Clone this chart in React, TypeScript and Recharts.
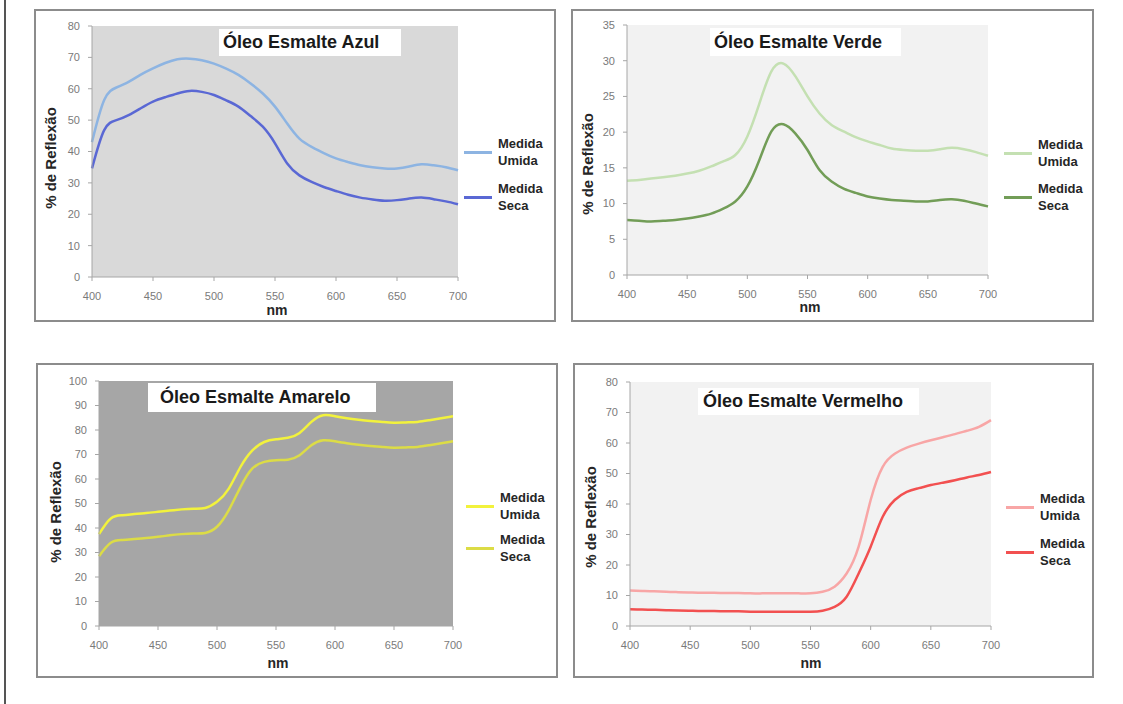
import React from "react";
import { LineChart, Line, XAxis, YAxis, CartesianGrid, Legend, Label } from "recharts";

// comprimentos de onda (nm), leitura a cada 10 nm
const WAVELENGTHS = [400, 410, 420, 430, 440, 450, 460, 470, 480, 490, 500, 510, 520, 530, 540, 550, 560, 570, 580, 590, 600, 610, 620, 630, 640, 650, 660, 670, 680, 690, 700];
const X_TICKS = [400, 450, 500, 550, 600, 650, 700];

const AZUL_UMIDA = [43, 56.4, 60.4, 62.2, 64.5, 66.5, 68.2, 69.4, 69.6, 69.1, 68, 66.4, 64.4, 61.7, 58.5, 54.3, 48.9, 44.1, 41.5, 39.5, 37.8, 36.6, 35.6, 35, 34.6, 34.6, 35.2, 35.9, 35.6, 35, 34];
const AZUL_SECA = [34.6, 46.8, 50, 51.6, 53.8, 55.9, 57.3, 58.5, 59.3, 59, 58, 56.3, 54.3, 51.3, 47.9, 42.6, 36.2, 32.4, 30.3, 28.7, 27.4, 26.2, 25.3, 24.7, 24.3, 24.5, 25, 25.3, 24.8, 24.1, 23.2];

const VERDE_UMIDA = [13.2, 13.3, 13.5, 13.7, 13.9, 14.2, 14.6, 15.2, 15.9, 16.8, 19.4, 24, 28.5, 29.6, 27.8, 25, 22.6, 21, 20.1, 19.3, 18.7, 18.2, 17.7, 17.5, 17.4, 17.4, 17.6, 17.8, 17.6, 17.2, 16.7];
const VERDE_SECA = [7.7, 7.6, 7.5, 7.6, 7.7, 7.9, 8.2, 8.6, 9.3, 10.3, 12.4, 16.1, 20.1, 21.1, 19.8, 17.5, 14.7, 13.1, 12.1, 11.5, 11, 10.7, 10.5, 10.4, 10.3, 10.3, 10.5, 10.6, 10.4, 10, 9.6];

const AMARELO_UMIDA = [37.5, 43.9, 45.2, 45.7, 46.1, 46.6, 47.1, 47.6, 47.9, 48.2, 50.7, 56.1, 65, 71.7, 75.1, 76.2, 76.8, 78.8, 83.3, 86, 85.6, 84.8, 84.2, 83.7, 83.3, 83, 83.1, 83.3, 84, 84.8, 85.6];
const AMARELO_SECA = [28.5, 34, 35.1, 35.5, 35.9, 36.4, 37, 37.5, 37.8, 38, 40.5, 47.3, 56.8, 64.3, 67, 67.7, 67.9, 69.7, 73.8, 75.8, 75.4, 74.6, 74, 73.5, 73.1, 72.8, 72.9, 73.1, 73.8, 74.6, 75.4];

const VERMELHO_UMIDA = [11.6, 11.5, 11.4, 11.2, 11.1, 11, 10.9, 10.9, 10.8, 10.8, 10.7, 10.7, 10.7, 10.7, 10.7, 10.7, 11.2, 12.9, 17.2, 26, 41.3, 52.2, 56.5, 58.5, 59.8, 60.9, 61.9, 62.9, 64, 65.3, 67.5];
const VERMELHO_SECA = [5.5, 5.4, 5.3, 5.2, 5.1, 5, 4.9, 4.9, 4.8, 4.8, 4.7, 4.7, 4.7, 4.7, 4.7, 4.7, 5, 6.3, 9.6, 17.2, 26, 35.8, 41.3, 44, 45.2, 46.2, 47, 47.8, 48.7, 49.5, 50.5];

const Y_TICKS_AZUL = [0, 10, 20, 30, 40, 50, 60, 70, 80];
const Y_TICKS_VERDE = [0, 5, 10, 15, 20, 25, 30, 35];
const Y_TICKS_AMARELO = [0, 10, 20, 30, 40, 50, 60, 70, 80, 90, 100];
const Y_TICKS_VERMELHO = [0, 10, 20, 30, 40, 50, 60, 70, 80];

const LEGEND_LABELS = [["Medida", "Umida"], ["Medida", "Seca"]];
const Y_LABEL = "% de Reflexão";
const X_LABEL = "nm";

const FONT = "'Liberation Sans', Arial, sans-serif";

const panels = [
  {
    title: "Óleo Esmalte Azul",
    umida: AZUL_UMIDA,
    seca: AZUL_SECA,
    yTicks: Y_TICKS_AZUL,
    colors: ["#8db4e2", "#5a68d4"],
    plotBg: "#d9d9d9",
    box: { left: 34, top: 9, width: 522, height: 313 },
    margin: { top: 17, right: 98, bottom: 15, left: 18 },
    yLabel: { x: 16, y: 149 },
    xLabel: { x: 243, y: 301 },
    legend: { left: 430, top: 126, gap: 11 },
    titleBox: { left: 185, top: 20, width: 182, height: 27, pad: 4 },
  },
  {
    title: "Óleo Esmalte Verde",
    umida: VERDE_UMIDA,
    seca: VERDE_SECA,
    yTicks: Y_TICKS_VERDE,
    colors: ["#c4e0b2", "#729d57"],
    plotBg: "#f2f2f2",
    box: { left: 571, top: 9, width: 523, height: 313 },
    margin: { top: 16, right: 106, bottom: 17, left: 16 },
    yLabel: { x: 16, y: 155 },
    xLabel: { x: 239, y: 298 },
    legend: { left: 433, top: 127, gap: 10 },
    titleBox: { left: 139, top: 19, width: 191, height: 28, pad: 4 },
  },
  {
    title: "Óleo Esmalte Amarelo",
    umida: AMARELO_UMIDA,
    seca: AMARELO_SECA,
    yTicks: Y_TICKS_AMARELO,
    colors: ["#f2f23c", "#dcdc46"],
    plotBg: "#a6a6a6",
    box: { left: 36, top: 363, width: 522, height: 315 },
    margin: { top: 18, right: 105, bottom: 22, left: 23 },
    yLabel: { x: 19, y: 149 },
    xLabel: { x: 242, y: 300 },
    legend: { left: 430, top: 126, gap: 8 },
    titleBox: { left: 112, top: 20, width: 228, height: 29, pad: 12 },
  },
  {
    title: "Óleo Esmalte Vermelho",
    umida: VERMELHO_UMIDA,
    seca: VERMELHO_SECA,
    yTicks: Y_TICKS_VERMELHO,
    colors: ["#f8a6a6", "#f25050"],
    plotBg: "#f2f2f2",
    box: { left: 573, top: 363, width: 521, height: 315 },
    margin: { top: 19, right: 103, bottom: 22, left: 17 },
    yLabel: { x: 17, y: 154 },
    xLabel: { x: 238, y: 300 },
    legend: { left: 433, top: 127, gap: 11 },
    titleBox: { left: 125, top: 25, width: 221, height: 27, pad: 5 },
  },
];

function Panel({ cfg }: { cfg: any }) {
  const data = WAVELENGTHS.map((nm, i) => ({ nm, umida: cfg.umida[i], seca: cfg.seca[i] }));
  const yMax = cfg.yTicks[cfg.yTicks.length - 1];
  const { box } = cfg;

  const renderLegend = () => (
    <div style={{ display: "flex", flexDirection: "column", gap: cfg.legend.gap, fontFamily: FONT }}>
      {LEGEND_LABELS.map((lines, i) => (
        <div key={i} style={{ display: "flex", alignItems: "center", height: 34 }}>
          <div style={{ width: 28, height: 3, background: cfg.colors[i], marginRight: 6 }} />
          <div style={{ fontSize: 13, fontWeight: 700, lineHeight: "17px", color: "#262626" }}>
            {lines.map((l) => (
              <div key={l}>{l}</div>
            ))}
          </div>
        </div>
      ))}
    </div>
  );

  return (
    <div style={{ position: "absolute", left: box.left, top: box.top, width: box.width, height: box.height }}>
      <LineChart width={box.width} height={box.height} data={data} margin={cfg.margin}>
        <CartesianGrid horizontal={false} vertical={false} fill={cfg.plotBg} stroke="none" />
        <XAxis
          dataKey="nm"
          type="number"
          domain={[400, 700]}
          ticks={X_TICKS}
          height={30}
          tickSize={4}
          tickMargin={11}
          stroke="#a6a6a6"
          tick={{ fill: "#7a7a7a", fontSize: 11, fontFamily: FONT }}
        >
          <Label
            content={() => (
              <text x={cfg.xLabel.x} y={cfg.xLabel.y} textAnchor="middle" dominantBaseline="central" fontFamily={FONT} fontSize={14} fontWeight={700} fill="#262626">
                {X_LABEL}
              </text>
            )}
          />
        </XAxis>
        <YAxis
          type="number"
          domain={[0, yMax]}
          ticks={cfg.yTicks}
          width={40}
          tickSize={4}
          tickMargin={8}
          stroke="#a6a6a6"
          tick={{ fill: "#7a7a7a", fontSize: 11, fontFamily: FONT }}
        >
          <Label
            content={() => (
              <text
                x={cfg.yLabel.x}
                y={cfg.yLabel.y}
                transform={`rotate(-90, ${cfg.yLabel.x}, ${cfg.yLabel.y})`}
                textAnchor="middle"
                dominantBaseline="central"
                fontFamily={FONT}
                fontSize={15}
                fontWeight={700}
                fill="#262626"
              >
                {Y_LABEL}
              </text>
            )}
          />
        </YAxis>
        <Legend
          layout="horizontal"
          align="center"
          verticalAlign="middle"
          content={renderLegend}
          wrapperStyle={{ left: cfg.legend.left, top: cfg.legend.top, right: "auto", bottom: "auto", width: "auto" }}
        />
        <Line type="natural" dataKey="umida" name="Medida Umida" stroke={cfg.colors[0]} strokeWidth={2.5} dot={false} isAnimationActive={false} />
        <Line type="natural" dataKey="seca" name="Medida Seca" stroke={cfg.colors[1]} strokeWidth={2.5} dot={false} isAnimationActive={false} />
      </LineChart>
      <div
        style={{
          position: "absolute",
          left: cfg.titleBox.left,
          top: cfg.titleBox.top,
          width: cfg.titleBox.width,
          height: cfg.titleBox.height,
          background: "#fff",
          display: "flex",
          alignItems: "center",
          paddingLeft: cfg.titleBox.pad,
          boxSizing: "border-box",
          fontFamily: FONT,
          fontWeight: 700,
          fontSize: 18,
          color: "#1a1a1a",
          whiteSpace: "nowrap",
        }}
      >
        {cfg.title}
      </div>
      <div
        style={{
          position: "absolute",
          left: 0,
          top: 0,
          width: box.width,
          height: box.height,
          border: "2px solid #8c8c8c",
          boxSizing: "border-box",
          pointerEvents: "none",
        }}
      />
    </div>
  );
}

export default function App() {
  return (
    <div style={{ position: "absolute", left: 0, top: 0, width: 1123, height: 704, background: "#fff", overflow: "hidden" }}>
      <div style={{ position: "absolute", left: 4, top: 0, width: 2, height: 704, background: "#555" }} />
      {panels.map((p) => (
        <Panel key={p.title} cfg={p} />
      ))}
    </div>
  );
}
